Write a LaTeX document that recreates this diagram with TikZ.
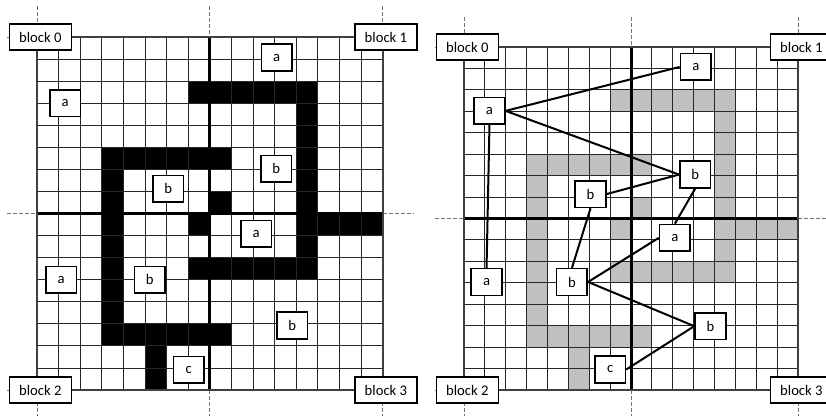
\documentclass[tikz,border=0pt]{standalone}
\usepackage{fontspec}
\setmainfont{Carlito}
\usepackage{xcolor}
\definecolor{mazegray}{RGB}{192,192,192}

% cells of the maze, as rectangles col1/row1/col2/row2
\newcommand{\mazecells}{7/2/13/3, 12/2/13/11, 12/8/16/9, 7/10/13/11,
  3/5/9/6, 3/5/4/14, 3/13/9/14, 5/14/6/16, 8/7/9/8, 7/8/8/9}

% one 16x16 grid in the current scope
\newcommand{\drawmaze}[1]{%
  \foreach \ca/\ra/\cb/\rb in \mazecells
    \fill[#1] (\ca,\ra) rectangle (\cb,\rb);
  \foreach \k in {1,...,15}
    \draw[cellline] (\k,0) -- (\k,16) (0,\k) -- (16,\k);
  \foreach \k in {0,8,16} {
    \draw[guide] (\k,-1.4) -- (\k,0) (\k,16) -- (\k,17.4);
    \draw[guide] (-1.4,\k) -- (0,\k) (16,\k) -- (17.4,\k);
  }
  \draw[split] (8,0) -- (8,16) (0,8) -- (16,8);
  \draw[frame] (0,0) rectangle (16,16);
}

\begin{document}
\begin{tikzpicture}[x=0.75pt, y=-0.75pt,
  cellline/.style={line width=0.75pt, black!85},
  guide/.style={black!55, line width=0.7pt, dash pattern=on 3pt off 1.5pt},
  split/.style={line width=2.3pt, black},
  frame/.style={line width=1.6pt, black!75},
  lbl/.style={draw, line width=1.2pt, fill=white, inner sep=0pt,
    minimum width=23pt, minimum height=20pt, font=\fontsize{11}{13}\selectfont},
  blk/.style={lbl, minimum width=46.5pt, minimum height=19.5pt, xshift=2.5pt},
  link/.style={line width=1.5pt, black}
]
\clip (0,0) rectangle (826,415);

% Left grid: maze in black
\begin{scope}[shift={(37,37)}, x=16.2pt, y=-16.55pt]
\drawmaze{black}
\node[blk] (L0) at (0,0) {block 0};
\node[blk] (L1) at (16,0) {block 1};
\node[blk] (L2) at (0,16) {block 2};
\node[blk] (L3) at (16,16) {block 3};

\node[lbl] (LaTop) at (11.1,0.93) {a};
\node[lbl] (LaLeft) at (1.3,3.0) {a};
\node[lbl] (LbUpper) at (6.08,6.88) {b};
\node[lbl] (LbRight) at (11.08,5.97) {b};
\node[lbl] (LaMid) at (10.15,8.92) {a};
\node[lbl] (LbLow) at (11.82,13.07) {b};
\node[lbl] (LaLow) at (1.12,11.0) {a};
\node[lbl] (LbMid) at (5.22,11.0) {b};
\node[lbl] (Lc) at (7.03,15.08) {c};
\end{scope}

% Right grid: maze in gray, labels linked
\begin{scope}[shift={(464,47)}, x=15.66pt, y=-16.08pt]
\drawmaze{mazegray}
\node[blk] (R0) at (0,0) {block 0};
\node[blk] (R1) at (16,0) {block 1};
\node[blk] (R2) at (0,16) {block 2};
\node[blk] (R3) at (16,16) {block 3};

\node[lbl] (RaTop) at (11.1,0.93) {a};
\node[lbl] (RaLeft) at (1.22,2.98) {a};
\node[lbl] (RbUpper) at (6.06,6.86) {b};
\node[lbl] (RbRight) at (11.07,5.95) {b};
\node[lbl] (RaMid) at (10.1,8.9) {a};
\node[lbl] (RbLow) at (11.8,13.02) {b};
\node[lbl] (RaLow) at (1.08,10.96) {a};
\node[lbl] (RbMid) at (5.17,10.96) {b};
\node[lbl] (Rc) at (7.0,15.04) {c};

% Links
\draw[link] (RaLeft.east) -- (RaTop.west);
\draw[link] (RaLeft.east) -- (RbRight.west);
\draw[link] (RbUpper.east) -- (RbRight.west);
\draw[link] (RbRight.south) -- (RaMid.north);
\draw[link] (RaLeft.south) -- (RaLow.north);
\draw[link] (RbUpper.south) -- (RbMid.north);
\draw[link] (RbMid.east) -- (RaMid.west);
\draw[link] (RbMid.east) -- (RbLow.west);
\draw[link] (Rc.east) -- (RbLow.west);
\end{scope}
\end{tikzpicture}
\end{document}
